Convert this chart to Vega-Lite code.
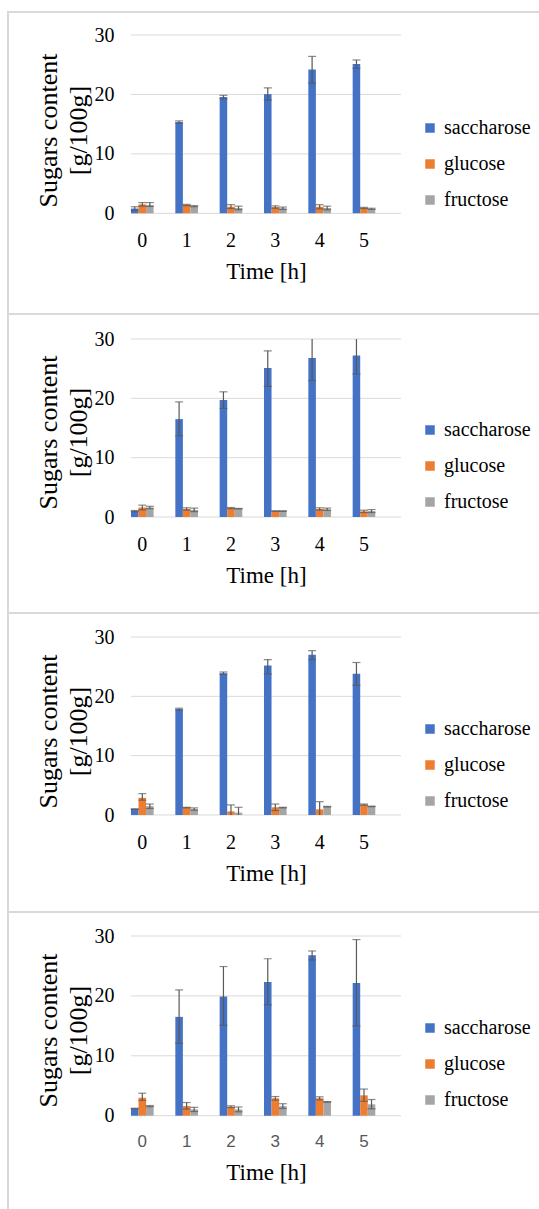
{
  "$schema": "https://vega.github.io/schema/vega-lite/v6.json",
  "background": "white",
  "padding": {"left": 7, "top": 11, "right": 0, "bottom": 0},
  "config": {"view": {"stroke": "#d9d9d9", "strokeWidth": 2}, "font": "Liberation Serif, Times New Roman, DejaVu Serif, serif"},
  "spacing": 0,
  "bounds": "flush",
  "resolve": {"scale": {"color": "independent", "x": "independent", "y": "independent", "xOffset": "independent"}, "legend": {"color": "independent"}},
  "datasets": {
    "grid": [{"g": 0}, {"g": 10}, {"g": 20}, {"g": 30}],
    "p1": [
      {"t": "0", "sugar": "saccharose", "v": 0.8, "lo": 0.5, "hi": 1.1},
      {"t": "0", "sugar": "glucose", "v": 1.5, "lo": 1.2, "hi": 1.8},
      {"t": "0", "sugar": "fructose", "v": 1.4, "lo": 1.15, "hi": 1.8},
      {"t": "1", "sugar": "saccharose", "v": 15.35, "lo": 15.15, "hi": 15.55},
      {"t": "1", "sugar": "glucose", "v": 1.4, "lo": 1.3, "hi": 1.5},
      {"t": "1", "sugar": "fructose", "v": 1.2, "lo": 1.1, "hi": 1.3},
      {"t": "2", "sugar": "saccharose", "v": 19.55, "lo": 19.25, "hi": 19.85},
      {"t": "2", "sugar": "glucose", "v": 1.1, "lo": 0.8, "hi": 1.45},
      {"t": "2", "sugar": "fructose", "v": 0.9, "lo": 0.6, "hi": 1.2},
      {"t": "3", "sugar": "saccharose", "v": 20.05, "lo": 19.05, "hi": 21.1},
      {"t": "3", "sugar": "glucose", "v": 1.05, "lo": 0.85, "hi": 1.25},
      {"t": "3", "sugar": "fructose", "v": 0.85, "lo": 0.65, "hi": 1.05},
      {"t": "4", "sugar": "saccharose", "v": 24.2, "lo": 21.9, "hi": 26.4},
      {"t": "4", "sugar": "glucose", "v": 1.1, "lo": 0.75, "hi": 1.45},
      {"t": "4", "sugar": "fructose", "v": 0.9, "lo": 0.6, "hi": 1.2},
      {"t": "5", "sugar": "saccharose", "v": 25.1, "lo": 24.4, "hi": 25.8},
      {"t": "5", "sugar": "glucose", "v": 0.9, "lo": 0.8, "hi": 1.0},
      {"t": "5", "sugar": "fructose", "v": 0.75, "lo": 0.65, "hi": 0.85}
    ],
    "p2": [
      {"t": "0", "sugar": "saccharose", "v": 1.0, "lo": 0.9, "hi": 1.1},
      {"t": "0", "sugar": "glucose", "v": 1.6, "lo": 1.2, "hi": 2.0},
      {"t": "0", "sugar": "fructose", "v": 1.6, "lo": 1.4, "hi": 1.8},
      {"t": "1", "sugar": "saccharose", "v": 16.5, "lo": 13.7, "hi": 19.4},
      {"t": "1", "sugar": "glucose", "v": 1.35, "lo": 1.15, "hi": 1.55},
      {"t": "1", "sugar": "fructose", "v": 1.2, "lo": 0.9, "hi": 1.5},
      {"t": "2", "sugar": "saccharose", "v": 19.7, "lo": 18.3, "hi": 21.1},
      {"t": "2", "sugar": "glucose", "v": 1.5, "lo": 1.4, "hi": 1.6},
      {"t": "2", "sugar": "fructose", "v": 1.4, "lo": 1.35, "hi": 1.45},
      {"t": "3", "sugar": "saccharose", "v": 25.1, "lo": 22.0, "hi": 28.0},
      {"t": "3", "sugar": "glucose", "v": 1.0, "lo": 0.95, "hi": 1.05},
      {"t": "3", "sugar": "fructose", "v": 1.0, "lo": 0.95, "hi": 1.05},
      {"t": "4", "sugar": "saccharose", "v": 26.8, "lo": 23.0, "hi": 30.6},
      {"t": "4", "sugar": "glucose", "v": 1.35, "lo": 1.15, "hi": 1.55},
      {"t": "4", "sugar": "fructose", "v": 1.3, "lo": 1.1, "hi": 1.5},
      {"t": "5", "sugar": "saccharose", "v": 27.2, "lo": 24.1, "hi": 30.3},
      {"t": "5", "sugar": "glucose", "v": 0.95, "lo": 0.75, "hi": 1.15},
      {"t": "5", "sugar": "fructose", "v": 1.0, "lo": 0.75, "hi": 1.25}
    ],
    "p3": [
      {"t": "0", "sugar": "saccharose", "v": 1.0, "lo": 0.95, "hi": 1.05},
      {"t": "0", "sugar": "glucose", "v": 2.9, "lo": 2.5, "hi": 3.6},
      {"t": "0", "sugar": "fructose", "v": 1.5, "lo": 1.1, "hi": 1.85},
      {"t": "1", "sugar": "saccharose", "v": 17.85, "lo": 17.7, "hi": 18.0},
      {"t": "1", "sugar": "glucose", "v": 1.25, "lo": 1.2, "hi": 1.3},
      {"t": "1", "sugar": "fructose", "v": 1.0, "lo": 0.8, "hi": 1.2},
      {"t": "2", "sugar": "saccharose", "v": 23.9, "lo": 23.7, "hi": 24.1},
      {"t": "2", "sugar": "glucose", "v": 0.6, "lo": -0.5, "hi": 1.7},
      {"t": "2", "sugar": "fructose", "v": 0.4, "lo": -0.5, "hi": 1.3},
      {"t": "3", "sugar": "saccharose", "v": 25.2, "lo": 23.8, "hi": 26.2},
      {"t": "3", "sugar": "glucose", "v": 1.3, "lo": 0.75, "hi": 1.85},
      {"t": "3", "sugar": "fructose", "v": 1.25, "lo": 1.2, "hi": 1.3},
      {"t": "4", "sugar": "saccharose", "v": 27.0, "lo": 26.2, "hi": 27.7},
      {"t": "4", "sugar": "glucose", "v": 0.95, "lo": -0.35, "hi": 2.25},
      {"t": "4", "sugar": "fructose", "v": 1.4, "lo": 1.35, "hi": 1.45},
      {"t": "5", "sugar": "saccharose", "v": 23.8, "lo": 21.85, "hi": 25.7},
      {"t": "5", "sugar": "glucose", "v": 1.75, "lo": 1.65, "hi": 1.85},
      {"t": "5", "sugar": "fructose", "v": 1.45, "lo": 1.4, "hi": 1.5}
    ],
    "p4": [
      {"t": "0", "sugar": "saccharose", "v": 1.2, "lo": 1.15, "hi": 1.25},
      {"t": "0", "sugar": "glucose", "v": 3.0, "lo": 2.55, "hi": 3.75},
      {"t": "0", "sugar": "fructose", "v": 1.6, "lo": 1.5, "hi": 1.7},
      {"t": "1", "sugar": "saccharose", "v": 16.5, "lo": 12.1, "hi": 21.0},
      {"t": "1", "sugar": "glucose", "v": 1.6, "lo": 1.1, "hi": 2.2},
      {"t": "1", "sugar": "fructose", "v": 1.05, "lo": 0.7, "hi": 1.4},
      {"t": "2", "sugar": "saccharose", "v": 19.9, "lo": 15.1, "hi": 24.9},
      {"t": "2", "sugar": "glucose", "v": 1.5, "lo": 1.35, "hi": 1.65},
      {"t": "2", "sugar": "fructose", "v": 1.05, "lo": 0.65, "hi": 1.45},
      {"t": "3", "sugar": "saccharose", "v": 22.3, "lo": 18.5, "hi": 26.2},
      {"t": "3", "sugar": "glucose", "v": 2.9, "lo": 2.6, "hi": 3.2},
      {"t": "3", "sugar": "fructose", "v": 1.6, "lo": 1.2, "hi": 2.0},
      {"t": "4", "sugar": "saccharose", "v": 26.8, "lo": 26.0, "hi": 27.5},
      {"t": "4", "sugar": "glucose", "v": 2.9, "lo": 2.65, "hi": 3.15},
      {"t": "4", "sugar": "fructose", "v": 2.3, "lo": 2.25, "hi": 2.35},
      {"t": "5", "sugar": "saccharose", "v": 22.15, "lo": 15.0, "hi": 29.4},
      {"t": "5", "sugar": "glucose", "v": 3.4, "lo": 2.4, "hi": 4.45},
      {"t": "5", "sugar": "fructose", "v": 1.9, "lo": 1.15, "hi": 2.7}
    ]
  },
  "vconcat": [
    {
      "width": 533, "height": 302,
      "layer": [
        {"data": {"name": "grid"}, "mark": {"type": "rule", "color": "#d9d9d9", "strokeWidth": 1, "xOffset": -11.3, "x2Offset": 37},
         "encoding": {
           "x": {"datum": "0", "type": "ordinal", "scale": {"type": "band", "domain": ["0","1","2","3","4","5"], "range": [123, 393], "paddingInner": 0.49, "paddingOuter": 0.29, "align": 0},
                 "axis": {"title": "Time [h]", "orient": "bottom", "offset": -100.7, "domain": false, "ticks": false, "grid": false, "labelAngle": 0, "labelFont": "Liberation Serif, DejaVu Serif, serif", "labelFontSize": 20, "labelColor": "#000000", "labelPadding": 17, "titleFont": "Liberation Serif, DejaVu Serif, serif", "titleFontSize": 23, "titleFontWeight": "normal", "titleColor": "#000000", "titlePadding": 10}},
           "x2": {"datum": "5"},
           "y": {"field": "g", "type": "quantitative", "scale": {"domain": [0, 30], "range": [201.3, 23], "clamp": true, "nice": false, "zero": false},
                 "axis": {"title": ["Sugars content", "[g/100g]"], "orient": "left", "offset": -123, "domain": false, "ticks": false, "grid": false, "values": [0, 10, 20, 30], "labelFont": "Liberation Serif, DejaVu Serif, serif", "labelFontSize": 20, "labelColor": "#000000", "labelPadding": 17, "titleFont": "Liberation Serif, DejaVu Serif, serif", "titleFontSize": 26, "titleFontWeight": "normal", "titleColor": "#000000", "titleLineHeight": 30, "titlePadding": 3, "titleY": 118}}
         }},
        {"data": {"name": "p1"}, "mark": {"type": "bar"},
         "encoding": {
           "x": {"field": "t", "type": "ordinal"},
           "xOffset": {"field": "sugar", "type": "nominal", "scale": {"type": "band", "domain": ["saccharose", "glucose", "fructose"], "paddingInner": 0, "paddingOuter": 0}},
           "y": {"field": "v", "type": "quantitative"},
           "color": {"field": "sugar", "type": "nominal", "scale": {"domain": ["saccharose", "glucose", "fructose"], "range": ["#4472C4", "#ED7D31", "#A5A5A5"]},
                     "legend": {"title": null, "orient": "none", "legendX": 412, "legendY": 106, "symbolType": "square", "symbolSize": 90, "symbolStrokeWidth": 0, "labelFont": "Liberation Serif, DejaVu Serif, serif", "labelFontSize": 20, "labelColor": "#000000", "labelOffset": 4, "labelLimit": 200, "rowPadding": 16, "padding": 0}}
         }},
        {"data": {"name": "p1"}, "mark": {"type": "rule", "color": "#595959", "strokeWidth": 1.2},
         "encoding": {"x": {"field": "t", "type": "ordinal"}, "xOffset": {"field": "sugar", "type": "nominal"}, "y": {"field": "lo", "type": "quantitative"}, "y2": {"field": "hi"}}},
        {"data": {"name": "p1"}, "transform": [{"filter": "datum.hi <= 30"}], "mark": {"type": "tick", "color": "#595959", "size": 8, "thickness": 1.2},
         "encoding": {"x": {"field": "t", "type": "ordinal"}, "xOffset": {"field": "sugar", "type": "nominal"}, "y": {"field": "hi", "type": "quantitative"}}},
        {"data": {"name": "p1"}, "transform": [{"filter": "datum.lo >= 0"}], "mark": {"type": "tick", "color": "#595959", "size": 8, "thickness": 1.2},
         "encoding": {"x": {"field": "t", "type": "ordinal"}, "xOffset": {"field": "sugar", "type": "nominal"}, "y": {"field": "lo", "type": "quantitative"}}}
      ]
    },
    {
      "width": 533, "height": 299,
      "layer": [
        {"data": {"name": "grid"}, "mark": {"type": "rule", "color": "#d9d9d9", "strokeWidth": 1, "xOffset": -11.3, "x2Offset": 37},
         "encoding": {
           "x": {"datum": "0", "type": "ordinal", "scale": {"type": "band", "domain": ["0","1","2","3","4","5"], "range": [123, 393], "paddingInner": 0.49, "paddingOuter": 0.29, "align": 0},
                 "axis": {"title": "Time [h]", "orient": "bottom", "offset": -96, "domain": false, "ticks": false, "grid": false, "labelAngle": 0, "labelFont": "Liberation Serif, DejaVu Serif, serif", "labelFontSize": 20, "labelColor": "#000000", "labelPadding": 17, "titleFont": "Liberation Serif, DejaVu Serif, serif", "titleFontSize": 23, "titleFontWeight": "normal", "titleColor": "#000000", "titlePadding": 10}},
           "x2": {"datum": "5"},
           "y": {"field": "g", "type": "quantitative", "scale": {"domain": [0, 30], "range": [203, 25], "clamp": true, "nice": false, "zero": false},
                 "axis": {"title": ["Sugars content", "[g/100g]"], "orient": "left", "offset": -123, "domain": false, "ticks": false, "grid": false, "values": [0, 10, 20, 30], "labelFont": "Liberation Serif, DejaVu Serif, serif", "labelFontSize": 20, "labelColor": "#000000", "labelPadding": 17, "titleFont": "Liberation Serif, DejaVu Serif, serif", "titleFontSize": 26, "titleFontWeight": "normal", "titleColor": "#000000", "titleLineHeight": 30, "titlePadding": 3, "titleY": 118}}
         }},
        {"data": {"name": "p2"}, "mark": {"type": "bar"},
         "encoding": {
           "x": {"field": "t", "type": "ordinal"},
           "xOffset": {"field": "sugar", "type": "nominal", "scale": {"type": "band", "domain": ["saccharose", "glucose", "fructose"], "paddingInner": 0, "paddingOuter": 0}},
           "y": {"field": "v", "type": "quantitative"},
           "color": {"field": "sugar", "type": "nominal", "scale": {"domain": ["saccharose", "glucose", "fructose"], "range": ["#4472C4", "#ED7D31", "#A5A5A5"]},
                     "legend": {"title": null, "orient": "none", "legendX": 412, "legendY": 106, "symbolType": "square", "symbolSize": 90, "symbolStrokeWidth": 0, "labelFont": "Liberation Serif, DejaVu Serif, serif", "labelFontSize": 20, "labelColor": "#000000", "labelOffset": 4, "labelLimit": 200, "rowPadding": 16, "padding": 0}}
         }},
        {"data": {"name": "p2"}, "mark": {"type": "rule", "color": "#595959", "strokeWidth": 1.2},
         "encoding": {"x": {"field": "t", "type": "ordinal"}, "xOffset": {"field": "sugar", "type": "nominal"}, "y": {"field": "lo", "type": "quantitative"}, "y2": {"field": "hi"}}},
        {"data": {"name": "p2"}, "transform": [{"filter": "datum.hi <= 30"}], "mark": {"type": "tick", "color": "#595959", "size": 8, "thickness": 1.2},
         "encoding": {"x": {"field": "t", "type": "ordinal"}, "xOffset": {"field": "sugar", "type": "nominal"}, "y": {"field": "hi", "type": "quantitative"}}},
        {"data": {"name": "p2"}, "transform": [{"filter": "datum.lo >= 0"}], "mark": {"type": "tick", "color": "#595959", "size": 8, "thickness": 1.2},
         "encoding": {"x": {"field": "t", "type": "ordinal"}, "xOffset": {"field": "sugar", "type": "nominal"}, "y": {"field": "lo", "type": "quantitative"}}}
      ]
    },
    {
      "width": 533, "height": 299,
      "layer": [
        {"data": {"name": "grid"}, "mark": {"type": "rule", "color": "#d9d9d9", "strokeWidth": 1, "xOffset": -11.3, "x2Offset": 37},
         "encoding": {
           "x": {"datum": "0", "type": "ordinal", "scale": {"type": "band", "domain": ["0","1","2","3","4","5"], "range": [123, 393], "paddingInner": 0.49, "paddingOuter": 0.29, "align": 0},
                 "axis": {"title": "Time [h]", "orient": "bottom", "offset": -97, "domain": false, "ticks": false, "grid": false, "labelAngle": 0, "labelFont": "Liberation Serif, DejaVu Serif, serif", "labelFontSize": 20, "labelColor": "#000000", "labelPadding": 17, "titleFont": "Liberation Serif, DejaVu Serif, serif", "titleFontSize": 23, "titleFontWeight": "normal", "titleColor": "#000000", "titlePadding": 10}},
           "x2": {"datum": "5"},
           "y": {"field": "g", "type": "quantitative", "scale": {"domain": [0, 30], "range": [202, 24], "clamp": true, "nice": false, "zero": false},
                 "axis": {"title": ["Sugars content", "[g/100g]"], "orient": "left", "offset": -123, "domain": false, "ticks": false, "grid": false, "values": [0, 10, 20, 30], "labelFont": "Liberation Serif, DejaVu Serif, serif", "labelFontSize": 20, "labelColor": "#000000", "labelPadding": 17, "titleFont": "Liberation Serif, DejaVu Serif, serif", "titleFontSize": 26, "titleFontWeight": "normal", "titleColor": "#000000", "titleLineHeight": 30, "titlePadding": 3, "titleY": 118}}
         }},
        {"data": {"name": "p3"}, "mark": {"type": "bar"},
         "encoding": {
           "x": {"field": "t", "type": "ordinal"},
           "xOffset": {"field": "sugar", "type": "nominal", "scale": {"type": "band", "domain": ["saccharose", "glucose", "fructose"], "paddingInner": 0, "paddingOuter": 0}},
           "y": {"field": "v", "type": "quantitative"},
           "color": {"field": "sugar", "type": "nominal", "scale": {"domain": ["saccharose", "glucose", "fructose"], "range": ["#4472C4", "#ED7D31", "#A5A5A5"]},
                     "legend": {"title": null, "orient": "none", "legendX": 412, "legendY": 106, "symbolType": "square", "symbolSize": 90, "symbolStrokeWidth": 0, "labelFont": "Liberation Serif, DejaVu Serif, serif", "labelFontSize": 20, "labelColor": "#000000", "labelOffset": 4, "labelLimit": 200, "rowPadding": 16, "padding": 0}}
         }},
        {"data": {"name": "p3"}, "mark": {"type": "rule", "color": "#595959", "strokeWidth": 1.2},
         "encoding": {"x": {"field": "t", "type": "ordinal"}, "xOffset": {"field": "sugar", "type": "nominal"}, "y": {"field": "lo", "type": "quantitative"}, "y2": {"field": "hi"}}},
        {"data": {"name": "p3"}, "transform": [{"filter": "datum.hi <= 30"}], "mark": {"type": "tick", "color": "#595959", "size": 8, "thickness": 1.2},
         "encoding": {"x": {"field": "t", "type": "ordinal"}, "xOffset": {"field": "sugar", "type": "nominal"}, "y": {"field": "hi", "type": "quantitative"}}},
        {"data": {"name": "p3"}, "transform": [{"filter": "datum.lo >= 0"}], "mark": {"type": "tick", "color": "#595959", "size": 8, "thickness": 1.2},
         "encoding": {"x": {"field": "t", "type": "ordinal"}, "xOffset": {"field": "sugar", "type": "nominal"}, "y": {"field": "lo", "type": "quantitative"}}}
      ]
    },
    {
      "width": 533, "height": 299,
      "layer": [
        {"data": {"name": "grid"}, "mark": {"type": "rule", "color": "#d9d9d9", "strokeWidth": 1, "xOffset": -11.3, "x2Offset": 37},
         "encoding": {
           "x": {"datum": "0", "type": "ordinal", "scale": {"type": "band", "domain": ["0","1","2","3","4","5"], "range": [123, 393], "paddingInner": 0.49, "paddingOuter": 0.29, "align": 0},
                 "axis": {"title": "Time [h]", "orient": "bottom", "offset": -95.3, "domain": false, "ticks": false, "grid": false, "labelAngle": 0, "labelFont": "Liberation Sans, Arial, sans-serif", "labelFontSize": 17, "labelColor": "#595959", "labelPadding": 18, "titleFont": "Liberation Serif, DejaVu Serif, serif", "titleFontSize": 23, "titleFontWeight": "normal", "titleColor": "#000000", "titlePadding": 12}},
           "x2": {"datum": "5"},
           "y": {"field": "g", "type": "quantitative", "scale": {"domain": [0, 30], "range": [203.7, 24], "clamp": true, "nice": false, "zero": false},
                 "axis": {"title": ["Sugars content", "[g/100g]"], "orient": "left", "offset": -123, "domain": false, "ticks": false, "grid": false, "values": [0, 10, 20, 30], "labelFont": "Liberation Serif, DejaVu Serif, serif", "labelFontSize": 20, "labelColor": "#000000", "labelPadding": 17, "titleFont": "Liberation Serif, DejaVu Serif, serif", "titleFontSize": 26, "titleFontWeight": "normal", "titleColor": "#000000", "titleLineHeight": 30, "titlePadding": 3, "titleY": 118}}
         }},
        {"data": {"name": "p4"}, "mark": {"type": "bar"},
         "encoding": {
           "x": {"field": "t", "type": "ordinal"},
           "xOffset": {"field": "sugar", "type": "nominal", "scale": {"type": "band", "domain": ["saccharose", "glucose", "fructose"], "paddingInner": 0, "paddingOuter": 0}},
           "y": {"field": "v", "type": "quantitative"},
           "color": {"field": "sugar", "type": "nominal", "scale": {"domain": ["saccharose", "glucose", "fructose"], "range": ["#4472C4", "#ED7D31", "#A5A5A5"]},
                     "legend": {"title": null, "orient": "none", "legendX": 412, "legendY": 106, "symbolType": "square", "symbolSize": 90, "symbolStrokeWidth": 0, "labelFont": "Liberation Serif, DejaVu Serif, serif", "labelFontSize": 20, "labelColor": "#000000", "labelOffset": 4, "labelLimit": 200, "rowPadding": 16, "padding": 0}}
         }},
        {"data": {"name": "p4"}, "mark": {"type": "rule", "color": "#595959", "strokeWidth": 1.2},
         "encoding": {"x": {"field": "t", "type": "ordinal"}, "xOffset": {"field": "sugar", "type": "nominal"}, "y": {"field": "lo", "type": "quantitative"}, "y2": {"field": "hi"}}},
        {"data": {"name": "p4"}, "transform": [{"filter": "datum.hi <= 30"}], "mark": {"type": "tick", "color": "#595959", "size": 8, "thickness": 1.2},
         "encoding": {"x": {"field": "t", "type": "ordinal"}, "xOffset": {"field": "sugar", "type": "nominal"}, "y": {"field": "hi", "type": "quantitative"}}},
        {"data": {"name": "p4"}, "transform": [{"filter": "datum.lo >= 0"}], "mark": {"type": "tick", "color": "#595959", "size": 8, "thickness": 1.2},
         "encoding": {"x": {"field": "t", "type": "ordinal"}, "xOffset": {"field": "sugar", "type": "nominal"}, "y": {"field": "lo", "type": "quantitative"}}}
      ]
    }
  ]
}
